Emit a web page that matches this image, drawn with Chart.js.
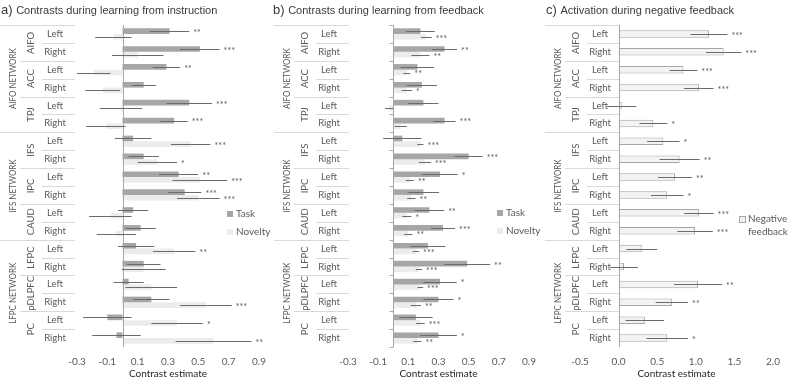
<!DOCTYPE html>
<html lang="en">
<head>
<meta charset="UTF-8">
<title>Contrast estimates</title>
<script src="https://cdn.jsdelivr.net/npm/chart.js"></script>
<style>
  body { margin: 0; background: #fff; }
  .figura { position: relative; width: 789px; height: 379px; overflow: hidden; }
  .figura canvas { position: absolute; top: 0; }
</style>
</head>
<body>
<div class="figura">
  <canvas id="painelA" width="275" height="379" style="left:0px"></canvas>
  <canvas id="painelB" width="280" height="379" style="left:265px"></canvas>
  <canvas id="painelC" width="249" height="379" style="left:540px"></canvas>
</div>
<script>
// categorias (3 redes x 3 regioes x 2 lados)
const networks = ['AIFO NETWORK', 'IFS NETWORK', 'LFPC NETWORK'];
const regions = ['AIFO', 'ACC', 'TPJ', 'IFS', 'IPC', 'CAUD', 'LFPC', 'pDLPFC', 'PC'];
const sides = ['Left', 'Right'];
const regionsPerNetwork = 3;
const categories = regions.flatMap(r => sides.map(s => r + ' ' + s));

// a) instruction
const ticksA = [-0.3, -0.1, 0.1, 0.3, 0.5, 0.7, 0.9];
const taskA = [0.31, 0.51, 0.29, 0.14, 0.44, 0.34, 0.07, 0.14, 0.37, 0.41, 0.07, 0.12, 0.09, 0.14, 0.04, 0.19, -0.10, -0.04];
const taskAErr = [0.13, 0.13, 0.09, 0.08, 0.15, 0.09, 0.12, 0.10, 0.13, 0.11, 0.10, 0.10, 0.12, 0.11, 0.10, 0.12, 0.16, 0.16];
const taskAStars = ['**', '***', '**', '', '***', '***', '', '', '**', '***', '', '', '', '', '', '', '', ''];
const noveltyA = [-0.06, 0.10, -0.19, -0.13, -0.01, -0.11, 0.45, 0.23, 0.51, 0.50, -0.08, -0.04, 0.34, 0.14, 0.19, 0.55, 0.36, 0.60];
const noveltyAErr = [0.12, 0.17, 0.11, 0.115, 0.14, 0.13, 0.13, 0.13, 0.18, 0.14, 0.14, 0.13, 0.14, 0.145, 0.17, 0.17, 0.17, 0.25];
const noveltyAStars = ['', '', '', '', '', '', '***', '*', '***', '***', '', '', '**', '', '', '***', '*', '**'];

// b) feedback
const ticksB = [-0.3, -0.1, 0.1, 0.3, 0.5, 0.7, 0.9];
const taskB = [0.18, 0.34, 0.16, 0.19, 0.20, 0.34, 0.06, 0.50, 0.31, 0.20, 0.24, 0.33, 0.23, 0.49, 0.31, 0.30, 0.15, 0.30];
const taskBErr = [0.095, 0.083, 0.11, 0.10, 0.10, 0.073, 0.127, 0.093, 0.117, 0.104, 0.098, 0.08, 0.115, 0.152, 0.111, 0.10, 0.111, 0.122];
const taskBStars = ['', '**', '', '', '', '***', '', '***', '*', '', '**', '***', '', '**', '*', '*', '', '*'];
const noveltyB = [0.22, 0.18, 0.09, 0.09, -0.027, 0.05, 0.18, 0.21, 0.11, 0.12, 0.09, 0.10, 0.15, 0.17, 0.18, 0.15, 0.18, 0.16];
const noveltyBErr = [0.035, 0.06, 0.023, 0.035, 0.027, 0.04, 0.021, 0.04, 0.027, 0.027, 0.03, 0.027, 0.021, 0.021, 0.018, 0.034, 0.029, 0.027];
const noveltyBStars = ['***', '**', '**', '*', '', '', '***', '***', '**', '**', '*', '**', '***', '***', '***', '**', '***', '**'];

// c) negative feedback
const ticksC = [-0.5, 0.0, 0.5, 1.0, 1.5, 2.0];
const negFeedback = [1.17, 1.36, 0.84, 1.04, 0.04, 0.45, 0.58, 0.79, 0.73, 0.63, 1.04, 0.99, 0.30, 0.07, 1.03, 0.69, 0.34, 0.63];
const negFeedbackErr = [0.24, 0.23, 0.18, 0.19, 0.19, 0.18, 0.21, 0.26, 0.22, 0.21, 0.19, 0.23, 0.20, 0.18, 0.31, 0.21, 0.25, 0.27];
const negFeedbackStars = ['***', '***', '***', '***', '', '*', '*', '**', '**', '*', '***', '***', '', '', '**', '**', '', '*'];

const corTexto = '#595959';

// desenha rotulos de categoria, eixo, barras de erro, legenda e titulo
function pluginPainel(p) {
  return {
    id: 'painel',
    beforeDatasetsDraw(chart) {
      const ctx = chart.ctx;
      const ys = chart.scales.y;
      const passo = ys.getPixelForValue(1) - ys.getPixelForValue(0);
      const R = p.rotuloDireita;
      ctx.save();
      ctx.strokeStyle = '#d9d9d9';
      ctx.lineWidth = 1;
      for (let i = 0; i < categories.length; i++) {
        const yy = Math.round(ys.getPixelForValue(i) - passo / 2) + 0.5;
        let x0 = R - 33;
        if (i % (sides.length * regionsPerNetwork) === 0) x0 = R - 75;
        else if (i % sides.length === 0) x0 = R - 55;
        ctx.beginPath(); ctx.moveTo(x0, yy); ctx.lineTo(R, yy); ctx.stroke();
      }
      ctx.fillStyle = corTexto;
      ctx.font = '9.5px Lato';
      ctx.textAlign = 'center';
      ctx.textBaseline = 'middle';
      categories.forEach((c, i) => ctx.fillText(sides[i % sides.length], R - 20, ys.getPixelForValue(i)));
      regions.forEach((r, j) => {
        const yc = (ys.getPixelForValue(j * 2) + ys.getPixelForValue(j * 2 + 1)) / 2;
        ctx.save(); ctx.translate(R - 44, yc); ctx.rotate(-Math.PI / 2); ctx.fillText(r, 0, 0); ctx.restore();
      });
      const porRede = sides.length * regionsPerNetwork;
      networks.forEach((nw, k) => {
        const yc = (ys.getPixelForValue(k * porRede) + ys.getPixelForValue(k * porRede + porRede - 1)) / 2;
        ctx.save();
        ctx.translate(R - 62, yc);
        ctx.rotate(-Math.PI / 2);
        ctx.scale(0.84, 1); // texto mais estreito, como no original
        ctx.fillText(nw, 0, 0);
        ctx.restore();
      });
      ctx.restore();
    },
    afterDatasetsDraw(chart) {
      const ctx = chart.ctx;
      const area = chart.chartArea;
      const xs = chart.scales.x;
      const ys = chart.scales.y;
      ctx.save();

      // eixo vertical no zero
      const x0 = Math.round(xs.getPixelForValue(0)) + 0.5;
      ctx.strokeStyle = '#a6a6a6';
      ctx.lineWidth = 1;
      ctx.beginPath(); ctx.moveTo(x0, area.top); ctx.lineTo(x0, area.bottom); ctx.stroke();
      if (p.marcas) {
        const passo = ys.getPixelForValue(1) - ys.getPixelForValue(0);
        for (let i = 0; i <= categories.length; i++) {
          const yy = Math.round(ys.getPixelForValue(0) - passo / 2 + i * passo) + 0.5;
          ctx.beginPath(); ctx.moveTo(x0 - 4, yy); ctx.lineTo(x0, yy); ctx.stroke();
        }
      }

      // barras de erro e asteriscos
      chart.data.datasets.forEach((ds, d) => {
        const meta = chart.getDatasetMeta(d);
        meta.data.forEach((bar, i) => {
          const v = ds.data[i], e = ds.errors[i];
          const xa = xs.getPixelForValue(v - e), xb = xs.getPixelForValue(v + e);
          const yy = Math.round(bar.y) + 0.5;
          ctx.strokeStyle = '#6b6b6b';
          ctx.beginPath(); ctx.moveTo(xa, yy); ctx.lineTo(xb, yy); ctx.stroke();
          if (ds.stars[i]) {
            ctx.fillStyle = corTexto;
            ctx.font = '9px Lato';
            ctx.textAlign = 'left';
            ctx.textBaseline = 'middle';
            ctx.fillText(ds.stars[i], xb + 4, bar.y + 2);
          }
        });
      });

      // legenda
      ctx.font = '10px Lato';
      ctx.textAlign = 'left';
      ctx.textBaseline = 'middle';
      chart.data.datasets.forEach((ds, d) => {
        const ly = p.legenda.y + d * 18;
        ctx.fillStyle = ds.backgroundColor;
        ctx.fillRect(p.legenda.x, ly - 3, 6, 6);
        if (ds.borderWidth) {
          ctx.strokeStyle = ds.borderColor;
          ctx.strokeRect(p.legenda.x + 0.5, ly - 2.5, 6, 6);
        }
        ctx.fillStyle = corTexto;
        const linhas = p.legenda.quebra ? ds.label.split(' ') : [ds.label];
        linhas.forEach((t, k) => ctx.fillText(t, p.legenda.x + 9, ly + k * 12.5));
      });

      // titulo do eixo
      ctx.fillStyle = '#262626';
      ctx.font = '10px Lato';
      ctx.textAlign = 'center';
      ctx.fillText('Contrast estimate', (area.left + area.right) / 2, 374);

      // titulo do painel
      ctx.textAlign = 'left';
      ctx.textBaseline = 'alphabetic';
      ctx.fillStyle = '#3a3a3a';
      ctx.font = '13px "Liberation Sans"';
      ctx.fillText(p.letra, p.tituloX, 14);
      const w = ctx.measureText(p.letra + ' ').width;
      ctx.font = '11px "Liberation Sans"';
      ctx.fillText(p.titulo, p.tituloX + w, 14);
      ctx.restore();
    }
  };
}

function criarPainel(id, datasets, ticks, min, max, padding, barra, p) {
  return new Chart(document.getElementById(id), {
    type: 'bar',
    data: { labels: categories, datasets: datasets },
    options: {
      indexAxis: 'y',
      responsive: false,
      animation: false,
      events: [],
      layout: { padding: padding },
      datasets: { bar: barra },
      plugins: { legend: { display: false }, tooltip: { enabled: false } },
      scales: {
        x: {
          min: min,
          max: max,
          afterBuildTicks: axis => { axis.ticks = ticks.map(v => ({ value: v })); },
          grid: { display: false, drawTicks: false },
          border: { display: false },
          ticks: {
            padding: 9,
            color: corTexto,
            font: { family: 'Lato', size: 10 },
            callback: v => Number(v).toFixed(1)
          }
        },
        y: { display: false }
      }
    },
    plugins: [pluginPainel(p)]
  });
}

criarPainel('painelA', [
  { label: 'Task', data: taskA, errors: taskAErr, stars: taskAStars, backgroundColor: '#a6a6a6' },
  { label: 'Novelty', data: noveltyA, errors: noveltyAErr, stars: noveltyAStars, backgroundColor: '#ececec' }
], ticksA, -0.3, 0.9, { left: 77, right: 13, top: 25, bottom: 2 },
  { barPercentage: 1, categoryPercentage: 0.63 },
  { rotuloDireita: 75, marcas: false, legenda: { x: 227, y: 214 }, letra: 'a)', titulo: 'Contrasts during learning from instruction', tituloX: 1 });

criarPainel('painelB', [
  { label: 'Task', data: taskB, errors: taskBErr, stars: taskBStars, backgroundColor: '#a6a6a6' },
  { label: 'Novelty', data: noveltyB, errors: noveltyBErr, stars: noveltyBStars, backgroundColor: '#ececec' }
], ticksB, -0.3, 0.9, { left: 83, right: 9, top: 25, bottom: 2 },
  { barPercentage: 1, categoryPercentage: 0.63 },
  { rotuloDireita: 84, marcas: true, legenda: { x: 232, y: 213 }, letra: 'b)', titulo: 'Contrasts during learning from feedback', tituloX: 8 });

criarPainel('painelC', [
  { label: 'Negative feedback', data: negFeedback, errors: negFeedbackErr, stars: negFeedbackStars,
    backgroundColor: '#f3f3f3', borderColor: '#a6a6a6', borderWidth: 1 }
], ticksC, -0.5, 2.0, { left: 40, right: 9, top: 25, bottom: 2 },
  { barPercentage: 0.42, categoryPercentage: 1 },
  { rotuloDireita: 80, marcas: false, legenda: { x: 199, y: 219, quebra: true }, letra: 'c)', titulo: 'Activation during negative feedback', tituloX: 6 });
</script>
</body>
</html>
